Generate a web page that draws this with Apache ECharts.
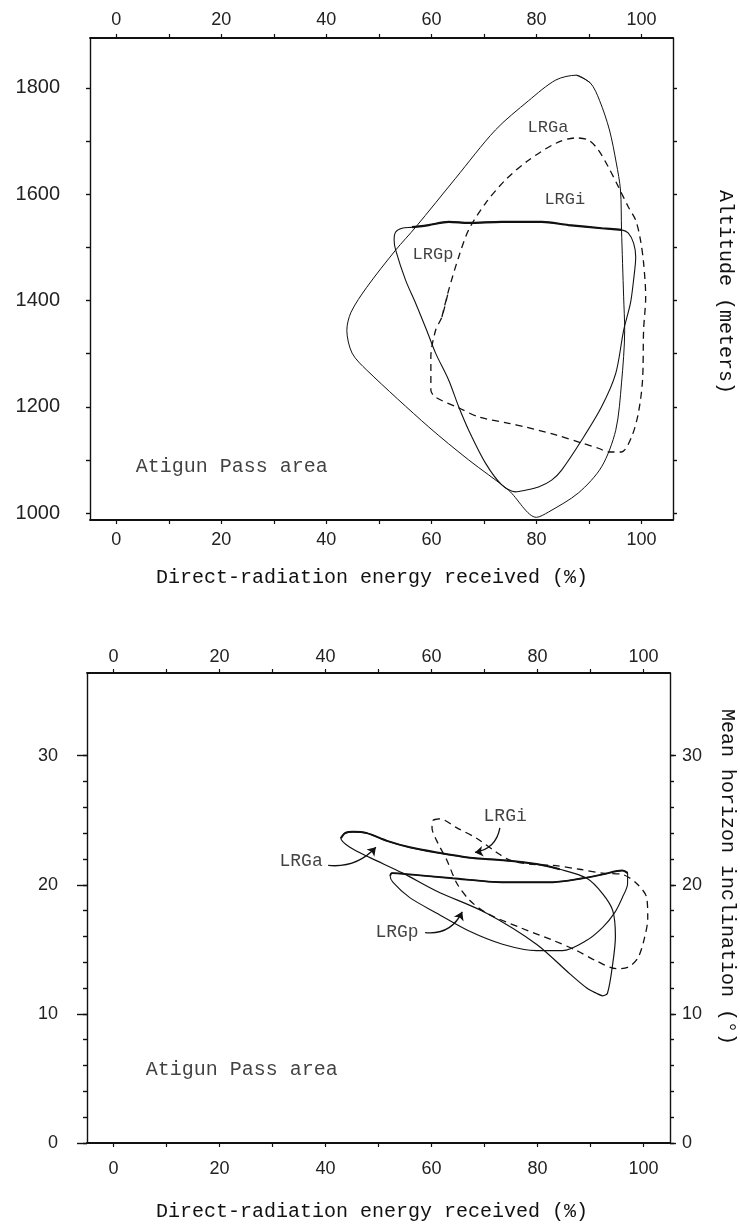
<!DOCTYPE html>
<html>
<head>
<meta charset="utf-8">
<title>Atigun Pass area</title>
<script src="https://cdn.jsdelivr.net/npm/echarts@6/dist/echarts.min.js"></script>
<style>
  html, body { margin: 0; padding: 0; background: #fff; }
  #chart { width: 740px; height: 1225px; }
</style>
</head>
<body>
<div id="chart"></div>
<script>
// x of both panels: direct-radiation energy received (%)
const pctTicks = [0, 10, 20, 30, 40, 50, 60, 70, 80, 90, 100]
const pctLabels = [0, 20, 40, 60, 80, 100]

// top panel: altitude (m)
const altTicks = [1000, 1100, 1200, 1300, 1400, 1500, 1600, 1700, 1800]
const altLabels = [1000, 1200, 1400, 1600, 1800]

// bottom panel: mean horizon inclination (deg)
const incTicks = [0, 2, 4, 6, 8, 10, 12, 14, 16, 18, 20, 22, 24, 26, 28, 30]
const incLabels = [0, 10, 20, 30]

// outlines, [energy %, altitude m]
const altLRGa = [
  [87.6, 1824], [90.3, 1809], [92.0, 1777], [93.9, 1721], [95.2, 1659], [96.0, 1608],
  [96.2, 1533], [96.6, 1407], [96.8, 1344], [96.2, 1245], [95.1, 1156], [92.4, 1087],
  [88.0, 1038], [82.3, 1002], [80.0, 992], [74.7, 1043], [67.1, 1100], [59.5, 1162],
  [47.7, 1269], [44.9, 1301], [43.9, 1344], [44.7, 1378], [47.7, 1425], [53.2, 1495],
  [57.0, 1538], [64.6, 1630], [72.2, 1721], [78.5, 1776], [83.7, 1815],
]
const altLRGi = [
  [62.0, 1369], [63.3, 1420], [65.2, 1482], [67.1, 1533], [70.3, 1583], [74.1, 1627],
  [78.5, 1664], [83.7, 1696], [87.5, 1706], [89.9, 1702], [91.8, 1683], [93.7, 1651],
  [95.6, 1614], [97.5, 1576], [98.9, 1551], [99.8, 1514], [100.4, 1471], [100.8, 1407],
  [100.4, 1344], [100.2, 1250], [99.4, 1188], [98.1, 1143], [96.2, 1115], [93.7, 1115],
  [91.8, 1122], [88.6, 1132], [83.7, 1147], [77.9, 1162], [74.7, 1169], [69.0, 1181],
  [65.2, 1198], [60.8, 1218], [59.9, 1231], [59.9, 1294], [60.8, 1344],
]
const altLRGp = [
  [56.3, 1538], [59.5, 1542], [63.3, 1548], [67.1, 1546], [73.4, 1548], [81.0, 1548],
  [86.1, 1542], [92.4, 1536], [96.2, 1533], [97.5, 1527], [98.5, 1508], [98.9, 1482],
  [98.5, 1439], [97.9, 1395], [96.6, 1344], [95.1, 1263], [92.4, 1200], [88.6, 1137],
  [84.8, 1081], [82.9, 1062], [80.4, 1049], [77.9, 1043], [76.0, 1040], [73.4, 1053],
  [70.3, 1094], [67.1, 1156], [65.2, 1200], [63.3, 1250], [60.8, 1301], [59.1, 1344],
  [57.0, 1395], [55.1, 1438], [53.2, 1495], [52.9, 1514], [53.2, 1529], [54.4, 1536],
]

// outlines, [energy %, inclination deg]
const incLRGa = [
  [42.9, 23.6], [43.7, 24.0], [45.2, 24.1], [47.8, 24.0], [51.6, 23.4], [55.9, 22.9],
  [61.0, 22.5], [67.2, 22.1], [73.4, 21.9], [79.8, 21.6], [84.2, 21.2], [89.3, 20.5],
  [92.3, 19.3], [94.2, 18.0], [94.7, 16.0], [94.2, 13.9], [93.2, 11.6], [92.3, 11.4],
  [91.1, 11.6], [89.3, 12.0], [86.1, 13.1], [79.8, 15.4], [70.4, 17.8], [61.0, 19.5],
  [54.6, 20.9], [48.4, 22.1], [44.6, 22.9],
]
const incLRGi = [
  [60.3, 25.0], [61.6, 25.1], [64.8, 24.4], [68.5, 23.6], [72.3, 22.5], [74.8, 21.9],
  [78.5, 21.6], [82.9, 21.5], [87.9, 21.2], [92.3, 20.9], [96.0, 20.8], [98.7, 20.1],
  [100.6, 19.0], [100.8, 17.4], [100.2, 15.9], [98.9, 14.3], [97.0, 13.6], [94.9, 13.5],
  [91.1, 14.1], [87.4, 14.9], [82.9, 15.7], [76.6, 16.7], [70.4, 17.8], [67.2, 18.8],
  [64.8, 20.1], [62.9, 21.9], [61.0, 23.4], [60.1, 24.4],
]
const incLRGp = [
  [52.2, 20.7], [52.5, 20.9], [55.9, 20.8], [64.0, 20.5], [73.4, 20.2], [82.9, 20.2],
  [88.5, 20.5], [92.3, 20.8], [96.0, 21.1], [97.0, 20.9], [97.0, 20.1], [96.0, 19.0],
  [94.5, 17.8], [92.3, 16.7], [89.3, 15.7], [84.7, 14.9], [79.8, 14.9], [73.4, 15.4],
  [67.2, 16.4], [61.0, 17.8], [55.9, 19.0], [52.7, 20.2],
]

const ink = '#111'
const numFont = '"Liberation Sans", Arial, sans-serif'
const monoFont = '"Liberation Mono", "DejaVu Sans Mono", monospace'

const closeLoop = (pts) => pts.concat([pts[0], pts[1]])

function pctAxis(gridIndex, position, min, max, margin) {
  return {
    type: 'value', gridIndex, position, min, max,
    axisLine: { show: true, onZero: false, lineStyle: { color: ink, width: 1.8 } },
    axisTick: { show: true, customValues: pctTicks, length: 4, lineStyle: { color: ink, width: 1.2 } },
    axisLabel: {
      show: true, customValues: pctLabels, margin, color: '#222',
      fontFamily: numFont, fontSize: 18, formatter: (v) => String(v),
    },
    splitLine: { show: false },
  }
}

function sideAxis(gridIndex, position, min, max, ticks, tickLen, labels, margin, fontSize, showLine) {
  return {
    type: 'value', gridIndex, position, min, max,
    axisLine: { show: showLine, onZero: false, lineStyle: { color: ink, width: 1.4 } },
    axisTick: { show: true, customValues: ticks, length: tickLen, lineStyle: { color: ink, width: 1.4 } },
    axisLabel: labels
      ? { show: true, customValues: labels, margin, color: '#222', fontFamily: numFont, fontSize, formatter: (v) => String(v) }
      : { show: false },
    splitLine: { show: false },
  }
}

function outline(xi, yi, data, width, dash) {
  return {
    type: 'line', xAxisIndex: xi, yAxisIndex: yi, data,
    showSymbol: false, smooth: 0.3, silent: true,
    lineStyle: { color: ink, width, type: dash || 'solid' },
  }
}

function tags(xi, yi, items) {
  return {
    type: 'scatter', xAxisIndex: xi, yAxisIndex: yi, symbolSize: 1, silent: true,
    itemStyle: { color: 'rgba(0,0,0,0)' },
    data: items,
    label: { show: true, position: 'inside', formatter: '{b}', fontFamily: monoFont, color: ink },
  }
}

// curved leaders from the tags to their outlines
function arrows(xi, yi, items) {
  return {
    type: 'lines', coordinateSystem: 'cartesian2d', xAxisIndex: xi, yAxisIndex: yi,
    silent: true, symbol: ['none', 'arrow'], symbolSize: 8,
    lineStyle: { color: ink, width: 1.3, opacity: 1 },
    data: items.map(([from, to, curveness]) => ({ coords: [from, to], lineStyle: { curveness } })),
  }
}

const chart = echarts.init(document.getElementById('chart'))

const option = {
  animation: false,
  backgroundColor: '#fff',
  grid: [
    { left: 90, top: 38, width: 583, height: 482 },
    { left: 87, top: 673, width: 583, height: 470 },
  ],
  xAxis: [
    pctAxis(0, 'bottom', -5, 106, 11),
    pctAxis(0, 'top', -5, 106, 9),
    pctAxis(1, 'bottom', -5, 105, 17),
    pctAxis(1, 'top', -5, 105, 7),
  ],
  yAxis: [
    sideAxis(0, 'left', 987, 1894, altTicks, 4, altLabels, 30, 20, true),
    sideAxis(0, 'right', 987, 1894, altTicks, 4, null, 0, 0, true),
    sideAxis(1, 'left', 0, 36.4, incTicks, 4, null, 0, 0, true),
    sideAxis(1, 'left', 0, 36.4, incLabels, 10, incLabels, 29, 18, false),
    sideAxis(1, 'right', 0, 36.4, incTicks, 4, null, 0, 0, true),
    sideAxis(1, 'right', 0, 36.4, incLabels, 6, incLabels, 12, 18, false),
  ],
  series: [
    // top panel
    outline(0, 0, closeLoop(altLRGa), 1),
    outline(0, 0, closeLoop(altLRGi), 1.3, [7, 5]),
    outline(0, 0, closeLoop(altLRGp), 1.1),
    outline(0, 0, altLRGp.slice(0, 9), 2.2),
    tags(0, 0, [
      { name: 'LRGa', value: [82.2, 1726], label: { fontSize: 17 } },
      { name: 'LRGi', value: [85.4, 1591], label: { fontSize: 17 } },
      { name: 'LRGp', value: [60.3, 1486], label: { fontSize: 17 } },
      { name: 'Atigun Pass area', value: [22.0, 1087], label: { fontSize: 20 } },
    ]),
    // bottom panel
    outline(2, 2, closeLoop(incLRGa), 1.2),
    outline(2, 2, incLRGa.slice(0, 11), 2),
    outline(2, 2, closeLoop(incLRGi), 1.3, [7, 5]),
    outline(2, 2, closeLoop(incLRGp), 1.1),
    outline(2, 2, incLRGp.slice(0, 10), 1.9),
    tags(2, 2, [
      { name: 'LRGa', value: [35.4, 21.8], label: { fontSize: 18 } },
      { name: 'LRGi', value: [73.9, 25.3], label: { fontSize: 18 } },
      { name: 'LRGp', value: [53.5, 16.3], label: { fontSize: 18 } },
      { name: 'Atigun Pass area', value: [24.2, 5.7], label: { fontSize: 20 } },
    ]),
    arrows(2, 2, [
      [[40.5, 21.5], [49.5, 22.9], -0.25],
      [[72.9, 24.4], [68.2, 22.5], 0.35],
      [[58.8, 16.3], [65.8, 17.9], -0.35],
    ]),
  ],
  graphic: [
    {
      type: 'text', x: 372, y: 578, silent: true,
      style: { text: 'Direct-radiation energy received (%)', fontFamily: monoFont, fontSize: 20, fill: ink, align: 'center', verticalAlign: 'middle' },
    },
    {
      type: 'text', x: 372, y: 1212, silent: true,
      style: { text: 'Direct-radiation energy received (%)', fontFamily: monoFont, fontSize: 20, fill: ink, align: 'center', verticalAlign: 'middle' },
    },
    {
      type: 'text', x: 725, y: 292, rotation: -Math.PI / 2, silent: true,
      style: { text: 'Altitude (meters)', fontFamily: monoFont, fontSize: 20, fill: ink, align: 'center', verticalAlign: 'middle' },
    },
    {
      type: 'text', x: 727, y: 877, rotation: -Math.PI / 2, silent: true,
      style: { text: 'Mean horizon inclination (°)', fontFamily: monoFont, fontSize: 20, fill: ink, align: 'center', verticalAlign: 'middle' },
    },
  ],
}

chart.setOption(option)
</script>
</body>
</html>
